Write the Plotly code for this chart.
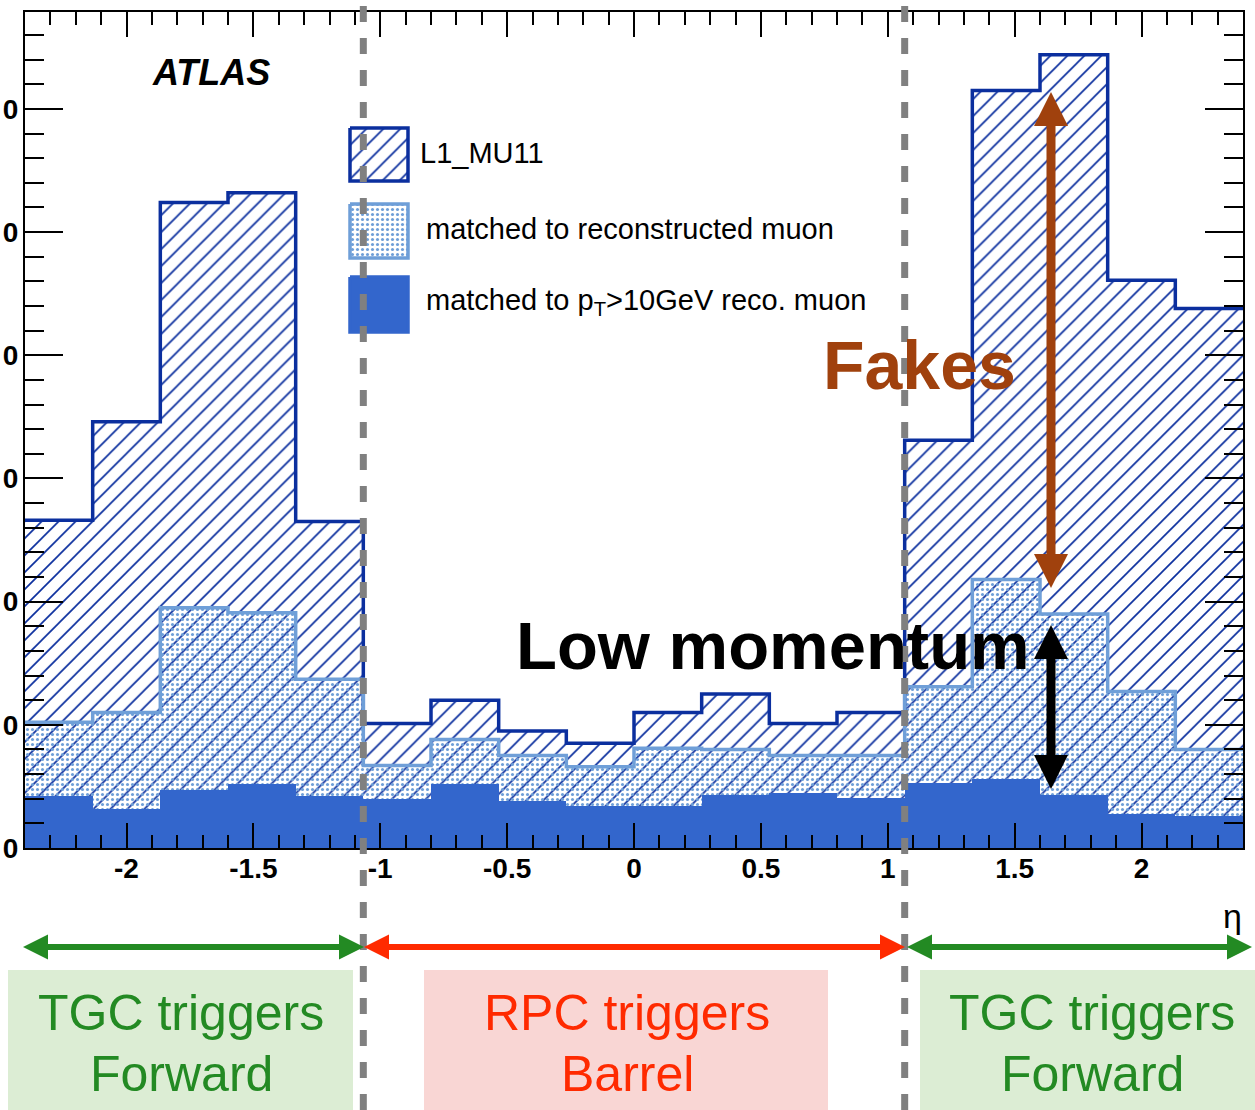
import plotly.graph_objects as go

# ---------------- data ----------------
bin_edges = [-2.4, -2.1333, -1.8667, -1.6, -1.3333, -1.0667, -0.8, -0.5333, -0.2667, 0.0,
             0.2667, 0.5333, 0.8, 1.0667, 1.3333, 1.6, 1.8667, 2.1333, 2.4]
l1_mu11 = [266, 346, 524, 532, 265, 101, 120, 95, 85, 110, 125, 101, 110, 331, 615, 644, 461, 438]
matched_reco = [102, 110, 195, 191, 137, 67, 88, 75, 66, 81, 80, 75, 75, 131, 218, 190, 127, 80]
matched_pt10 = [42, 32, 47, 52, 42, 40, 52, 38, 34, 34, 43, 45, 41, 53, 56, 43, 28, 26]
x_tickvals = [-2, -1.5, -1, -0.5, 0, 0.5, 1, 1.5, 2]
x_ticktext = ["-2", "-1.5", "-1", "-0.5", "0", "0.5", "1", "1.5", "2"]
y_tickvals = [0, 100, 200, 300, 400, 500, 600]
# only the last digit of each y label is visible in the (cropped) reference
y_ticktext = ["0", "0", "0", "0", "0", "0", "0"]
barrel_limits = [-1.0667, 1.0667]
legend_labels = ["L1_MU11", "matched to reconstructed muon", "matched to p<sub>T</sub>&gt;10GeV reco. muon"]

DARK = "#0b2f9e"
LIGHT = "#6f9fd8"
SOLID = "#3366cc"
BROWN = "#a0410d"
GREEN = "#238a23"
RED = "#ff2a00"

W, H = 1255, 1110
PL, PR, PT, PB = 25, 1243, 12, 848


def fx(p):
    return (p - PL) / (PR - PL)


def fy(p):
    return (PB - p) / (PB - PT)


centers = [(bin_edges[i] + bin_edges[i + 1]) / 2 for i in range(len(bin_edges) - 1)]
widths = [bin_edges[i + 1] - bin_edges[i] for i in range(len(bin_edges) - 1)]

fig = go.Figure()

fig.add_trace(go.Bar(x=centers, y=l1_mu11, width=widths,
                     marker=dict(color="white", line=dict(width=0),
                                 pattern=dict(shape="/", fgcolor=DARK, bgcolor="white",
                                              size=12, solidity=0.14))))
fig.add_trace(go.Scatter(x=bin_edges, y=l1_mu11 + [l1_mu11[-1]], mode="lines",
                         line=dict(color=DARK, width=3.5, shape="hv")))
fig.add_trace(go.Bar(x=centers, y=matched_reco, width=widths,
                     marker=dict(color="rgba(0,0,0,0)", line=dict(width=0),
                                 pattern=dict(shape=".", fgcolor=LIGHT, bgcolor="rgba(0,0,0,0)",
                                              size=5, solidity=0.3))))
fig.add_trace(go.Scatter(x=bin_edges, y=matched_reco + [matched_reco[-1]], mode="lines",
                         line=dict(color=LIGHT, width=3.5, shape="hv")))
fig.add_trace(go.Bar(x=centers, y=matched_pt10, width=widths,
                     marker=dict(color=SOLID, line=dict(width=0))))

# ---- legend boxes (overlay pixel axes) ----
leg_boxes = [(350, 408, 128, 181), (350, 408, 204, 258), (350, 408, 277, 332)]
leg_styles = [
    dict(fillpattern=dict(shape="/", fgcolor=DARK, bgcolor="white", size=12, solidity=0.14), line=dict(color=DARK, width=3.5)),
    dict(fillpattern=dict(shape=".", fgcolor=LIGHT, bgcolor="white", size=5, solidity=0.3), line=dict(color=LIGHT, width=3.5)),
    dict(fillcolor=SOLID, line=dict(color=SOLID, width=3.5)),
]
for (x0, x1, y0, y1), st in zip(leg_boxes, leg_styles):
    fig.add_trace(go.Scatter(x=[x0, x1, x1, x0, x0], y=[y0, y0, y1, y1, y0], mode="lines",
                             fill="toself", xaxis="x2", yaxis="y2", **st))

tickfont = dict(family="Liberation Sans, Arial", size=28, color="black", weight="bold")
fig.update_layout(
    width=W, height=H, template="none", showlegend=False, barmode="overlay", bargap=0,
    paper_bgcolor="white", plot_bgcolor="white",
    margin=dict(l=PL, r=W - PR, t=PT, b=H - PB, pad=0),
    xaxis=dict(range=[-2.4, 2.4], tickmode="array", tickvals=x_tickvals, ticktext=x_ticktext,
               ticks="inside", ticklen=25, tickwidth=2, tickcolor="black",
               minor=dict(tickmode="linear", tick0=0, dtick=0.1, ticks="inside", ticklen=13, tickwidth=2, tickcolor="black"),
               showline=True, linecolor="black", linewidth=2, mirror="allticks",
               showgrid=False, zeroline=False, tickfont=tickfont, automargin=False, ticklabelstandoff=-6),
    yaxis=dict(range=[0, 678.7], tickmode="array", tickvals=y_tickvals, ticktext=y_ticktext,
               ticks="inside", ticklen=38, tickwidth=2, tickcolor="black",
               minor=dict(tickmode="linear", tick0=0, dtick=20, ticks="inside", ticklen=19, tickwidth=2, tickcolor="black"),
               showline=True, linecolor="black", linewidth=2, mirror="allticks",
               showgrid=False, zeroline=False, tickfont=tickfont, automargin=False, ticklabelstandoff=-1),
    xaxis2=dict(overlaying="x", range=[PL, PR], visible=False, fixedrange=True),
    yaxis2=dict(overlaying="y", range=[PB, PT], visible=False, fixedrange=True),
)

shapes = []
# barrel/endcap boundaries
for xb in barrel_limits:
    shapes.append(dict(type="line", xref="x", yref="paper", x0=xb, x1=xb, y0=fy(H), y1=fy(0),
                       line=dict(color="#808080", width=7, dash="16px,16px"), layer="above"))


def vline(x, y0, y1, color, w):
    shapes.append(dict(type="line", xref="paper", yref="paper", x0=fx(x), x1=fx(x), y0=fy(y0), y1=fy(y1),
                       line=dict(color=color, width=w), layer="above"))


def hline(x0, x1, y, color, w):
    shapes.append(dict(type="line", xref="paper", yref="paper", x0=fx(x0), x1=fx(x1), y0=fy(y), y1=fy(y),
                       line=dict(color=color, width=w), layer="above"))


def tri(pts, color):
    p = "M " + " L ".join(f"{fx(a):.5f},{fy(b):.5f}" for a, b in pts) + " Z"
    shapes.append(dict(type="path", xref="paper", yref="paper", path=p, fillcolor=color,
                       line=dict(width=0), layer="above"))


def varrow(x, ytop, ybot, color, w, hl, hw):
    vline(x, ytop + hl - 1, ybot - hl + 1, color, w)
    tri([(x, ytop), (x - hw, ytop + hl), (x + hw, ytop + hl)], color)
    tri([(x, ybot), (x - hw, ybot - hl), (x + hw, ybot - hl)], color)


def harrow(xl, xr, y, color, w, hl, hw):
    hline(xl + hl - 1, xr - hl + 1, y, color, w)
    tri([(xl, y), (xl + hl, y - hw), (xl + hl, y + hw)], color)
    tri([(xr, y), (xr - hl, y - hw), (xr - hl, y + hw)], color)


# region boxes
for x0, x1, col in [(8, 353, "#dcedd4"), (424, 828, "#f9d6d4"), (920, 1255, "#dcedd4")]:
    shapes.append(dict(type="rect", xref="paper", yref="paper", x0=fx(x0), x1=fx(x1), y0=fy(1110), y1=fy(970),
                       fillcolor=col, line=dict(width=0), layer="below"))

varrow(1051, 92, 588, BROWN, 9, 34, 17)
varrow(1051, 625, 789, "black", 9, 34, 17)
harrow(23, 364, 947, GREEN, 6, 25, 12.5)
harrow(364, 905, 947, RED, 6, 25, 12.5)
harrow(907, 1252, 947, GREEN, 6, 25, 12.5)
fig.update_layout(shapes=shapes)

ann = []


def text(x, y, s, size, color="black", weight="normal", style="normal", xanchor="center"):
    ann.append(dict(x=fx(x), y=fy(y), xref="paper", yref="paper", text=s, showarrow=False,
                    xanchor=xanchor, yanchor="middle",
                    font=dict(family="Liberation Sans, Arial", size=size, color=color, weight=weight, style=style)))


text(211, 72, "ATLAS", 36, weight="bold", style="italic")
for lab, yy, xx in zip(legend_labels, [153, 229, 302], [418, 424, 424]):
    text(xx, yy, lab, 29, xanchor="left")
text(919, 365, "Fakes", 68, color=BROWN, weight="bold")
text(773, 645, "Low momentum", 67, weight="bold")
text(1232, 916, "η", 34)
text(181, 1013, "TGC triggers", 50, color=GREEN)
text(181, 1074, "Forward", 50, color=GREEN)
text(627, 1013, "RPC triggers", 50, color=RED)
text(627, 1074, "Barrel", 50, color=RED)
text(1092, 1013, "TGC triggers", 50, color=GREEN)
text(1092, 1074, "Forward", 50, color=GREEN)
fig.update_layout(annotations=ann)

fig.write_html("out.html")
